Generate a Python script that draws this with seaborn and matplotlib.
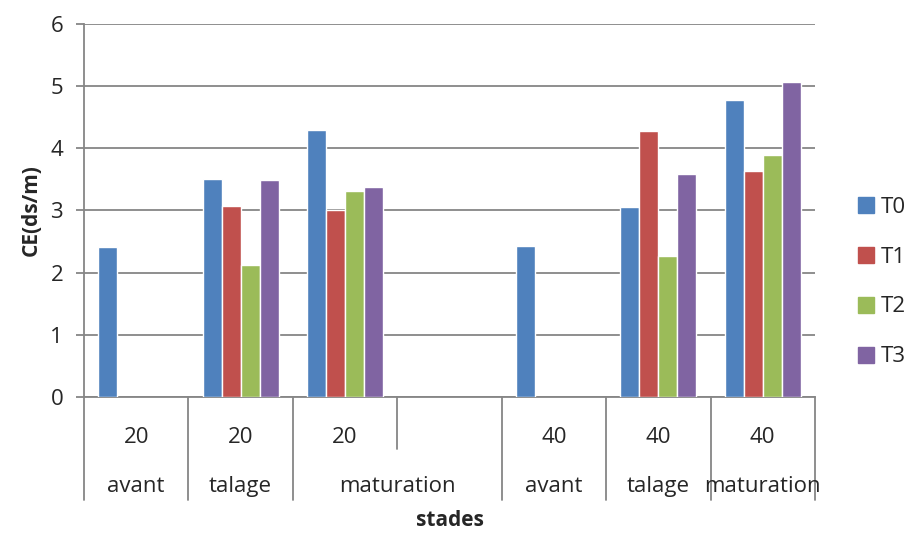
import numpy as np
import pandas as pd
import seaborn as sns
import matplotlib.pyplot as plt
import matplotlib.transforms as mtransforms

# data (NaN = no bar)
doses = ['20', '20', '20', '', '40', '40', '40']
stades = ['avant', 'talage', 'maturation', 'avant', 'talage', 'maturation']
stade_pos = [0, 1, 2.5, 4, 5, 6]  # where each stage label sits (maturation 20 spans two slots)
T0 = [2.42, 3.50, 4.29, np.nan, 2.43, 3.06, 4.77]
T1 = [np.nan, 3.07, 3.01, np.nan, np.nan, 4.28, 3.64]
T2 = [np.nan, 2.12, 3.31, np.nan, np.nan, 2.26, 3.90]
T3 = [np.nan, 3.49, 3.38, np.nan, np.nan, 3.58, 5.06]
series = {'T0': T0, 'T1': T1, 'T2': T2, 'T3': T3}
colors = ['#4F81BD', '#C0504D', '#9BBB59', '#8064A2']

cats = ['c%d' % i for i in range(len(doses))]
rows = []
for name, vals in series.items():
    for c, v in zip(cats, vals):
        rows.append({'cat': c, 'serie': name, 'CE': v})
df = pd.DataFrame(rows)

sns.set_style('white')
plt.rcParams['font.family'] = ['Open Sans', 'DejaVu Sans']
fs = 16

fig = plt.figure(figsize=(9.08, 5.33), dpi=100)
ax = fig.add_axes([0.0925, 0.2552, 0.805, 0.6998])

sns.barplot(data=df, x='cat', y='CE', hue='serie', order=cats,
            hue_order=list(series.keys()), palette=colors, width=0.73,
            saturation=1, errorbar=None, ax=ax, legend=False, zorder=3)

grid_c = '#868686'
ax.set_ylim(0, 6)
ax.set_xlim(-0.5, len(cats) - 0.5)
ax.set_yticks(range(0, 7))
ax.yaxis.grid(True, color=grid_c, linewidth=1.3, zorder=0)
ax.set_axisbelow(True)
for s in ['top', 'right']:
    ax.spines[s].set_visible(False)
for s in ['left', 'bottom']:
    ax.spines[s].set_color(grid_c)
    ax.spines[s].set_linewidth(1.3)
ax.tick_params(axis='y', left=True, length=6, width=1.3, color=grid_c,
               labelsize=fs, pad=9)
ax.set_xticks([])
ax.set_xlabel('')
ax.set_ylabel('CE(ds/m)', fontsize=fs - 1, fontweight='bold', labelpad=6)

# multi-level category axis
trans = mtransforms.blended_transform_factory(ax.transData, ax.transAxes)
for i, d in enumerate(doses):
    ax.text(i, -0.108, d, transform=trans, ha='center', va='center', fontsize=fs)
for p, s in zip(stade_pos, stades):
    ax.text(p, -0.24, s, transform=trans, ha='center', va='center', fontsize=fs)
for i in range(len(cats) + 1):
    x = i - 0.5
    low = -0.14 if i == 3 else -0.276
    ax.plot([x, x], [0, low], transform=trans, color=grid_c, lw=1.3,
            clip_on=False)
ax.text(0.5, -0.33, 'stades', transform=ax.transAxes, ha='center',
        va='center', fontsize=fs - 1, fontweight='bold')

handles = [plt.Line2D([], [], marker='s', linestyle='', markersize=11,
                      color=c) for c in colors]
fig.legend(handles, list(series.keys()), loc='center left',
           bbox_to_anchor=(0.922, 0.471), frameon=False, fontsize=fs,
           labelspacing=1.3, handletextpad=0.25, handlelength=0.8)

fig.savefig('out.png', dpi=100)
